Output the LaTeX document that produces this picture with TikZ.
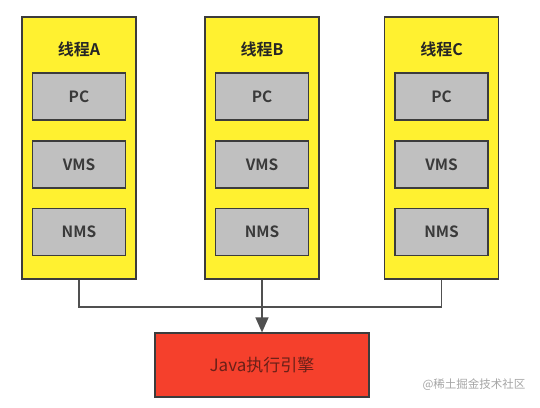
\documentclass[tikz,border=0pt]{standalone}
\usepackage{fontspec}
\setmainfont{Noto Sans CJK SC}[BoldFont={Noto Sans CJK SC Bold}]
\usetikzlibrary{arrows.meta}
\definecolor{ythread}{HTML}{FFF130}
\definecolor{gbox}{HTML}{C0C0C0}
\definecolor{rbox}{HTML}{F5402C}
\definecolor{edge}{HTML}{3C3C3C}
\definecolor{txt}{HTML}{3A3A3A}
\definecolor{etxt}{HTML}{6A2018}
\tikzset{
  thread/.style={draw=edge, line width=1.4pt, fill=ythread, minimum width=114pt, minimum height=262pt, inner sep=0pt},
  part/.style={draw=edge, line width=1.4pt, fill=gbox, minimum width=93pt, minimum height=47pt, inner sep=0pt, font=\bfseries\fontsize{15.5}{17}\selectfont, text=txt},
  ttl/.style={font=\bfseries\fontsize{16}{18}\selectfont, text=black!85},
  engine/.style={draw=edge, line width=1.2pt, fill=rbox, minimum width=214pt, minimum height=64pt, inner sep=0pt, font=\fontsize{17}{19}\selectfont, text=etxt},
  conn/.style={draw=edge!90, line width=1.3pt}
}
\begin{document}
\begin{tikzpicture}[x=1pt,y=-1pt]
\useasboundingbox[fill=white] (0,0) rectangle (540,407);
\foreach \n/\cx in {A/79,B/262,C/441.5}{
  \node[thread] (t\n) at (\cx,148) {};
  \node[ttl] (h\n) at (\cx,49) {线程\n};
  \node[part] (pc\n) at (\cx,96.5) {PC};
  \node[part] (vms\n) at (\cx,164.5) {VMS};
  \node[part] (nms\n) at (\cx,232) {NMS};
}
\node[engine] (eng) at (262,365) {Java执行引擎};
\coordinate (jA) at (79,307);
\coordinate (jC) at (441.5,307);
\draw[conn] (tA.south) -- (jA) -- (jC) -- (tC.south);
\draw[conn, -{Triangle[length=15pt,width=13pt]}] (tB.south) -- (eng.north);
\node[font=\fontsize{11.5}{13}\selectfont, text=black!35, anchor=east] (wm) at (529,385) {@稀土掘金技术社区};
\end{tikzpicture}
\end{document}
